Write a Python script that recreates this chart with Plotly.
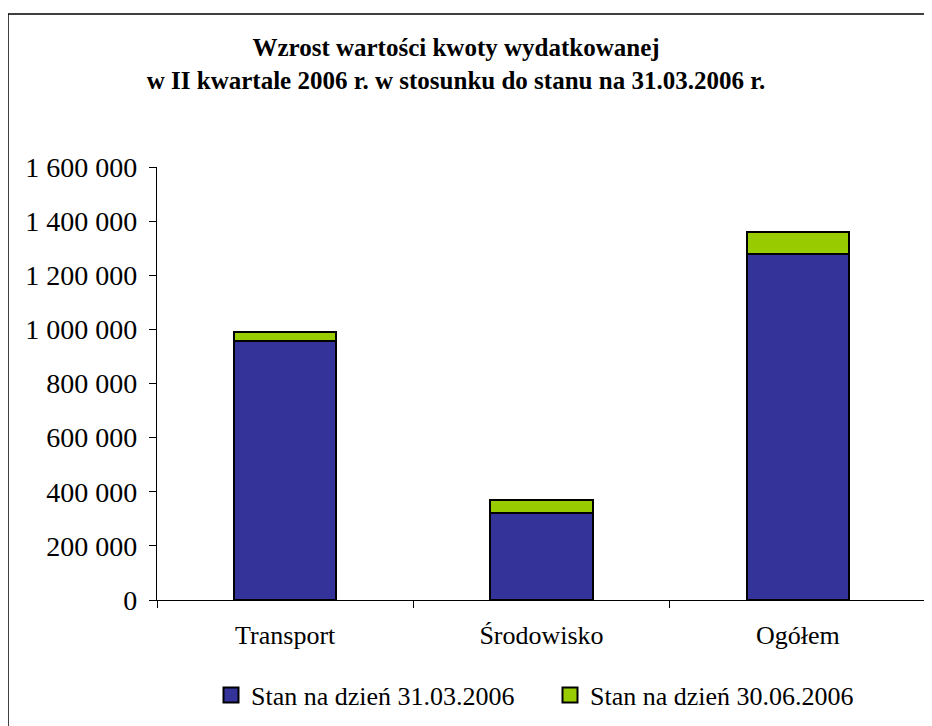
import plotly.graph_objects as go

categories = ["Transport", "Środowisko", "Ogółem"]
stan_31_03 = [957000, 320000, 1277000]
przyrost_30_06 = [33000, 49000, 82000]
series_names = ["Stan na dzień 31.03.2006", "Stan na dzień 30.06.2006"]
series_colors = ["#333399", "#99CC00"]
y_ticks = [0, 200000, 400000, 600000, 800000, 1000000, 1200000, 1400000, 1600000]

FONT = "Liberation Serif"

fig = go.Figure()
for vals, name, col in zip([stan_31_03, przyrost_30_06], series_names, series_colors):
    fig.add_trace(go.Bar(x=categories, y=vals, name=name, showlegend=False,
                         marker=dict(color=col, line=dict(color="black", width=2))))
# legend entries with larger square swatches
for name, col in zip(series_names, series_colors):
    fig.add_trace(go.Scatter(x=[None], y=[None], mode="markers", name=name,
                             marker=dict(symbol="square", size=15, color=col,
                                         line=dict(color="black", width=2))))

W, H = 932, 726
OFF = 8  # page body margin
L, R, T, B = 157 - OFF, W - (926 - OFF), 167 - OFF, H - (600 - OFF)
pw = W - L - R
ph = H - T - B

def px_x(x):
    return (x - OFF - L) / pw

def px_y(y):
    return (H - B - (y - OFF)) / ph

fig.update_layout(
    width=W, height=H,
    barmode="stack", bargap=0.6,
    separators=", ",
    paper_bgcolor="white", plot_bgcolor="white",
    margin=dict(l=L, r=R, t=T, b=B, pad=0),
    font=dict(family=FONT, size=26, color="black"),
    title=dict(text="<b>Wzrost wartości kwoty wydatkowanej<br>w II kwartale 2006 r. w stosunku do stanu na 31.03.2006 r.</b>",
               x=(456 - OFF) / W, xanchor="center", y=1 - 48 / H, yanchor="top",
               font=dict(family=FONT, size=25, color="black")),
    showlegend=True,
    legend=dict(orientation="h", x=px_x(550), xanchor="center", y=px_y(695), yanchor="middle",
                font=dict(family=FONT, size=26, color="black"), bgcolor="rgba(0,0,0,0)",
                entrywidth=294, entrywidthmode="pixels", traceorder="normal"),
    xaxis=dict(showline=True, linecolor="black", linewidth=1.2, ticks="outside", ticklen=7,
               tickcolor="black", tickson="boundaries", showgrid=False, ticklabelstandoff=12,
               tickfont=dict(family=FONT, size=26, color="black")),
    yaxis=dict(range=[0, 1600000], tickvals=y_ticks, tickformat=",d", showline=True,
               linecolor="black", linewidth=1.2, ticks="outside", ticklen=7, tickcolor="black",
               showgrid=False, zeroline=False, ticklabelstandoff=6,
               tickfont=dict(family=FONT, size=28, color="black")),
    shapes=[dict(type="rect", xref="paper", yref="paper",
                 x0=px_x(8), x1=px_x(W + 40), y0=px_y(H + 40), y1=px_y(14),
                 line=dict(color="black", width=1.5), fillcolor="rgba(0,0,0,0)", layer="below")],
)

fig.write_html("out.html")
